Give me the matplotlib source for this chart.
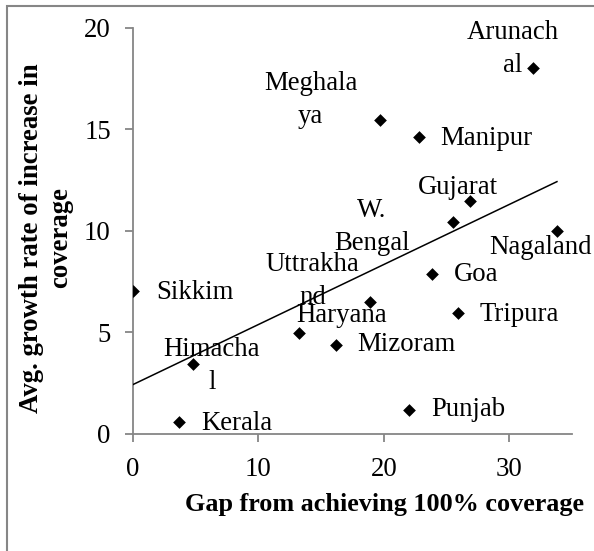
import matplotlib.pyplot as plt
import matplotlib.patches as patches
import numpy as np

plt.rcParams['font.family'] = ['Liberation Serif', 'DejaVu Serif']

states = ["Arunach\nal", "Meghala\nya", "Manipur", "Gujarat", "W.\nBengal", "Nagaland",
          "Goa", "Tripura", "Haryana", "Uttrakha\nnd", "Mizoram", "Punjab",
          "Sikkim", "Himacha\nl", "Kerala"]
gap = [31.9, 19.7, 22.8, 26.9, 25.5, 33.8, 23.85, 25.9, 18.9, 13.2, 16.15, 22.0, 0.0, 4.75, 3.67]
growth = [18.0, 15.45, 14.6, 11.45, 10.44, 9.99, 7.87, 5.93, 6.5, 4.98, 4.38, 1.17, 7.03, 3.42, 0.58]

# label offsets in points (placed by hand in the original)
label_offsets = [(-14.4, 13.7), (-50, 14.4), (48.7, -1), (-8.8, 9.6), (-58.2, -3.8), (-11.7, -12.2),
                 (31.5, -0.7), (44.1, -0.5), (-20.7, -9.6), (9.9, 37.2), (51, 0), (42.6, 0),
                 (44.9, -1.4), (13.9, -1.2), (41.8, -1.4)]

W, H = 594, 551
fig = plt.figure(figsize=(W / 100, H / 100), dpi=100)
ax = fig.add_axes([133 / W, 1 - 433.7 / H, (572 - 133) / W, (433.7 - 27.7) / H])

gray = "#868686"
fs = 19.3

ax.scatter(gap, growth, marker="D", s=42, color="black", zorder=3, linewidths=0)

# linear trendline over the data range
k, b = np.polyfit(gap, growth, 1)
xs = np.array([min(gap), max(gap)])
ax.plot(xs, k * xs + b, color="black", lw=1.1, zorder=4)

for name, x, y, off in zip(states, gap, growth, label_offsets):
    ax.annotate(name, (x, y), xytext=off, textcoords="offset points",
                ha="center", va="center", fontsize=fs, linespacing=1.42, zorder=2)

ax.set_xlim(0, 35)
ax.set_ylim(0, 20)
ax.set_xticks([0, 10, 20, 30])
ax.set_yticks([0, 5, 10, 15, 20])

for s in ["top", "right"]:
    ax.spines[s].set_visible(False)
for s in ["left", "bottom"]:
    ax.spines[s].set_color(gray)
    ax.spines[s].set_linewidth(1.3)
ax.tick_params(axis="both", direction="out", length=6, width=1.3, color=gray, labelsize=fs)
ax.tick_params(axis="y", pad=10)
ax.tick_params(axis="x", pad=11)

fig.text(384 / W, 1 - 505 / H, "Gap from achieving 100% coverage", ha="center", va="center",
         fontsize=18.8, fontweight="bold")
fig.text(46 / W, 1 - 238 / H, "Avg. growth rate of increase in\ncoverage", ha="center", va="center",
         rotation=90, fontsize=fs, fontweight="bold", linespacing=1.25)

frame = patches.Rectangle((7 / W, -0.1), 1.2, 1 - 6 / H + 0.1, transform=fig.transFigure,
                          fill=False, edgecolor=gray, linewidth=1.5)
fig.add_artist(frame)

fig.savefig("out.png", dpi=100)
